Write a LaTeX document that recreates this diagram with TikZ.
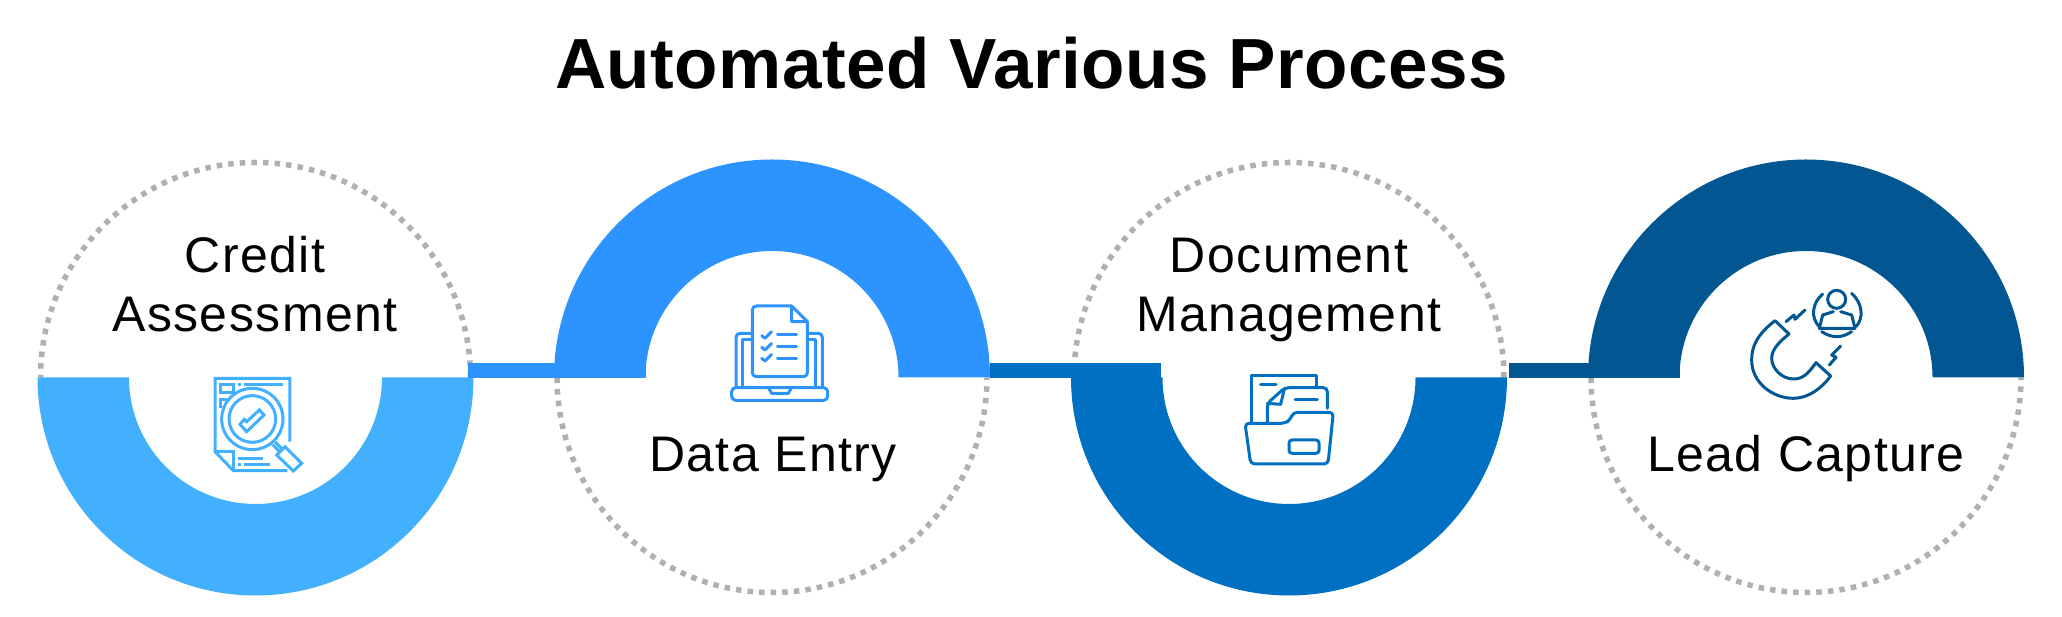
\documentclass[tikz,border=0pt]{standalone}
\usepackage{fontspec}
\setmainfont{Liberation Sans}
\newfontfamily\labelfont[LetterSpace=2.9]{Liberation Sans}
\newfontfamily\titlefont[LetterSpace=0.6]{Liberation Sans Bold}
\usetikzlibrary{positioning}
\definecolor{ringA}{HTML}{42AFFF}
\definecolor{ringB}{HTML}{2D93FF}
\definecolor{ringC}{HTML}{0071C2}
\definecolor{ringD}{HTML}{025792}
\definecolor{dotgray}{HTML}{B0B0B0}
\tikzset{
  steptext/.style={align=center, font=\labelfont\fontsize{50}{58.5}\selectfont, text=black, inner sep=0pt},
  dotring/.style={dotgray, line width=5.5pt, dash pattern=on 5.5pt off 6.1pt},
  linkbar/.style={line width=15.2pt},
  icon/.style={line width=3pt, line join=round, line cap=round}
}
\begin{document}
\begin{tikzpicture}[x=1pt, y=1pt]
  \useasboundingbox (0,0) rectangle (2062,617);

  % Title
  \node[font=\titlefont\fontsize{71}{80}\selectfont, inner sep=0pt, anchor=base] (title) at (1031.5,528) {Automated Various Process};

  % Circle centres
  \coordinate (c1) at (255.5,239.5);
  \coordinate (c2) at (772,239.5);
  \coordinate (c3) at (1289,239.5);
  \coordinate (c4) at (1806,239.5);

  % Half rings and dotted halves
  \foreach \c/\a/\b/\col in {c1/180/360/ringA, c2/0/180/ringB, c3/180/360/ringC, c4/0/180/ringD} {
    \draw[dotring] (\c) ++(\b:215) arc[start angle=\b, delta angle=180, radius=215];
    \fill[\col] (\c) ++(\a:218) arc[start angle=\a, end angle=\b, radius=218]
      -- ++(\a:91.5) arc[start angle=\b, end angle=\a, radius=126.5] -- cycle;
  }

  % Links
  \coordinate (link1s) at (468,246.6);
  \coordinate (link1e) at (646,246.6);
  \coordinate (link2s) at (990,246.6);
  \coordinate (link2e) at (1161,246.6);
  \coordinate (link3s) at (1509,246.6);
  \coordinate (link3e) at (1680,246.6);
  \draw[linkbar, ringB] (link1s) -- (link1e);
  \draw[linkbar, ringC] (link2s) -- (link2e);
  \draw[linkbar, ringD] (link3s) -- (link3e);

  % Labels
  \node[steptext] (credit) at (255,326.5) {\strut Credit\\\strut Assessment};
  \node[steptext, anchor=base] (entry) at (773,145) {Data Entry};
  \node[steptext] (document) at (1289,326.5) {\strut Document\\\strut Management};
  \node[steptext, anchor=base] (capture) at (1806,145) {Lead Capture};

  % Credit icon
  \begin{scope}[shift={(200,247)}, x=0.3333pt, y=-0.3333pt, icon, ringA, line cap=butt, line join=miter]
    \draw (270,215) -- (270,25) -- (45,25) -- (45,245) -- (100,302) -- (262,302);
    \draw (45,245) -- (100,245) -- (100,302);
    \draw (62,43) rectangle (100,68);
    \draw (62,115) -- (62,88) -- (80,88);
    \draw (113,43) -- (122,43) (132,43) -- (250,43);
    \draw[fill=white] (157,147) circle (92);
    \draw (157,147) circle (70);
    \draw (120,163) -- (140,185) -- (192,135) -- (178,120) -- (140,155) -- (133,148) -- cycle;
    \draw (218,224) -- (238,244) (226,216) -- (246,236);
    \draw (230,255) -- (255,230) -- (305,280) -- (280,303) -- cycle;
    \draw (113,265) -- (190,265) (113,283) -- (122,283) (133,283) -- (210,283);
  \end{scope}

  % Data entry icon
  \begin{scope}[shift={(720,322)}, x=0.3333pt, y=-0.3333pt, icon, ringB]
    \draw[rounded corners=4pt] (215,33) -- (97,33) -- (97,245) -- (262,245) -- (262,80);
    \draw (215,33) -- (262,80) -- (215,80) -- cycle;
    \foreach \y/\z in {122/120, 157/155, 190/190} {
      \draw (125,\y) -- (135,\y+8) -- (155,\y-12);
      \draw (172,\z) -- (230,\z);
    }
    \draw[rounded corners=4pt] (97,115) -- (48,115) -- (48,278);
    \draw[rounded corners=4pt] (262,115) -- (307,115) -- (307,278);
    \draw (97,135) -- (68,135) -- (68,278);
    \draw (262,135) -- (287,135) -- (287,278);
    \draw[rounded corners=4pt] (35,278) -- (323,278) -- (323,316) -- (35,316) -- cycle;
    \draw (145,278) -- (155,295) -- (205,295) -- (215,278);
  \end{scope}

  % Document icon
  \begin{scope}[shift={(1240,252)}, x=0.3333pt, y=-0.3333pt, icon, ringC]
    \draw (35,170) -- (35,33) -- (228,33) -- (228,68);
    \draw (62,60) -- (108,60);
    \draw[rounded corners=4pt] (82,170) -- (82,115) -- (135,68) -- (262,68) -- (262,130);
    \draw (82,115) -- (122,118) -- (133,72);
    \draw (165,103) -- (232,103);
    \draw[rounded corners=4pt] (15,175) -- (135,175) -- (150,165) -- (160,142) -- (280,142) -- (264,297) -- (32,297) -- cycle;
    \draw[rounded corners=3pt] (147,225) rectangle (237,265);
  \end{scope}

  % Lead icon
  \begin{scope}[shift={(1740,337)}, x=0.3333pt, y=-0.3333pt, icon, ringD]
    \draw (105,122) .. controls (50,165) and (35,200) .. (35,240) .. controls (35,310) and (100,355) .. (160,355)
      .. controls (205,355) and (245,325) .. (272,288) -- (228,248) .. controls (205,280) and (190,297) .. (160,297)
      .. controls (125,297) and (95,265) .. (95,235) .. controls (95,205) and (125,180) .. (147,162) -- cycle;
    \draw (138,125) -- (162,105) -- (165,118) -- (195,90);
    \draw (302,198) -- (275,225) -- (288,232) -- (268,255);
    \draw (248,42) .. controls (215,70) and (212,115) .. (238,140);
    \draw (335,40) .. controls (368,70) and (372,115) .. (348,140);
    \draw (245,155) .. controls (275,175) and (305,175) .. (335,155);
    \draw (290,58) circle (27);
    \draw (280,95) -- (248,105) -- (238,145) -- (345,145) -- (335,105) -- (302,95);
  \end{scope}
\end{tikzpicture}
\end{document}
